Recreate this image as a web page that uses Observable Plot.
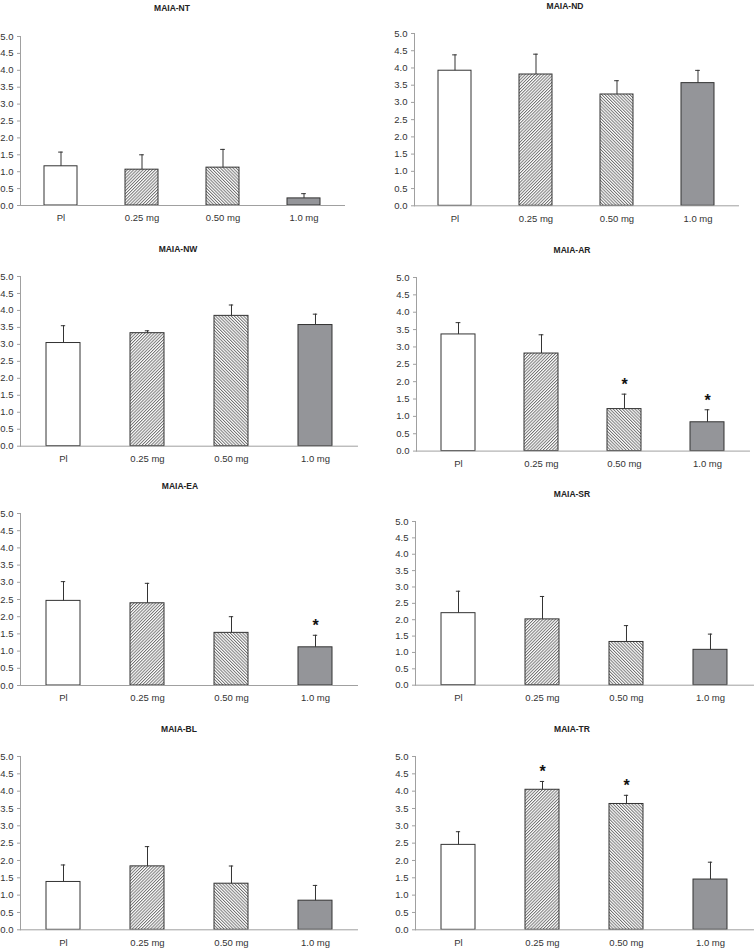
<!DOCTYPE html>
<html>
<head>
<meta charset="utf-8">
<script src="https://cdn.jsdelivr.net/npm/d3@7"></script>
<script src="https://cdn.jsdelivr.net/npm/@observablehq/plot@0.6"></script>
<style>
  html, body { margin: 0; padding: 0; background: #fff; }
  #page { position: relative; width: 755px; height: 950px; overflow: hidden; background: #fff;
          font-family: "Liberation Sans", Arial, sans-serif; }
  .ptitle { position: absolute; transform: translate(-50%, -50%); font-weight: bold; font-size: 8.5px;
            color: #222; white-space: nowrap; }
  .panel { position: absolute; }
</style>
</head>
<body>
<svg width="0" height="0" style="position:absolute">
  <defs>
    <pattern id="hatchUp" patternUnits="userSpaceOnUse" width="2.2" height="2.2" patternTransform="rotate(45)">
      <rect width="2.2" height="2.2" fill="#ffffff"></rect>
      <rect width="0.95" height="2.2" fill="#707070"></rect>
    </pattern>
    <pattern id="hatchDown" patternUnits="userSpaceOnUse" width="2.2" height="2.2" patternTransform="rotate(-45)">
      <rect width="2.2" height="2.2" fill="#ffffff"></rect>
      <rect width="0.95" height="2.2" fill="#707070"></rect>
    </pattern>
  </defs>
</svg>
<div id="page"></div>
<script>
// ---- data ----
const titles = ["MAIA-NT", "MAIA-ND", "MAIA-NW", "MAIA-AR", "MAIA-EA", "MAIA-SR", "MAIA-BL", "MAIA-TR"];
const categories = ["Pl", "0.25 mg", "0.50 mg", "1.0 mg"];
const yTicks = [0, 0.5, 1, 1.5, 2, 2.5, 3, 3.5, 4, 4.5, 5];
const means = [
  [1.16, 1.06, 1.12, 0.21],
  [3.92, 3.81, 3.23, 3.56],
  [3.04, 3.33, 3.84, 3.57],
  [3.36, 2.81, 1.21, 0.83],
  [2.46, 2.39, 1.53, 1.11],
  [2.20, 2.01, 1.32, 1.08],
  [1.38, 1.83, 1.33, 0.84],
  [2.45, 4.04, 3.63, 1.45]
];
const errors = [
  [0.42, 0.44, 0.54, 0.14],
  [0.46, 0.59, 0.40, 0.37],
  [0.51, 0.07, 0.32, 0.32],
  [0.34, 0.54, 0.43, 0.36],
  [0.56, 0.58, 0.47, 0.35],
  [0.67, 0.70, 0.50, 0.48],
  [0.49, 0.57, 0.51, 0.44],
  [0.38, 0.24, 0.25, 0.50]
];
const significant = [
  [], [], [], ["0.50 mg", "1.0 mg"], ["1.0 mg"], [], [], ["0.25 mg", "0.50 mg"]
];

// ---- styles & layout ----
const fills = {"Pl": "#ffffff", "0.25 mg": "url(#hatchUp)", "0.50 mg": "url(#hatchDown)", "1.0 mg": "#949599"};
const layout = [
  {left: 0,   width: 377, axisX: 20,  endX: 345, y5: 36,    y0: 205,   tx: 172, ty: 8},
  {left: 377, width: 378, axisX: 414, endX: 739, y5: 32.7,  y0: 205,   tx: 565, ty: 6},
  {left: 0,   width: 377, axisX: 20,  endX: 358, y5: 276,   y0: 445.7, tx: 178, ty: 249},
  {left: 377, width: 378, axisX: 416, endX: 750, y5: 276.7, y0: 450.3, tx: 572, ty: 250},
  {left: 0,   width: 377, axisX: 20,  endX: 358, y5: 512.7, y0: 684.7, tx: 180, ty: 486},
  {left: 377, width: 378, axisX: 415, endX: 754, y5: 521,   y0: 684.7, tx: 572, ty: 494},
  {left: 0,   width: 377, axisX: 20,  endX: 358, y5: 756,   y0: 929.3, tx: 179, ty: 729},
  {left: 377, width: 378, axisX: 415, endX: 754, y5: 756,   y0: 929.3, tx: 572, ty: 729}
];

const page = document.getElementById("page");
const padInner = 0.59;
const capWidth = 5;
const mTop = 10, mBottom = 24;

titles.forEach((title, p) => {
  const L = layout[p];
  const rows = categories.map((c, i) => ({cat: c, mean: means[p][i], top: means[p][i] + errors[p][i]}));
  const starRows = rows.filter(r => significant[p].includes(r.cat));
  const plotW = L.endX - L.axisX;
  const bw = (plotW / categories.length) * (1 - padInner);
  const capInset = (bw - capWidth) / 2;

  const chart = Plot.plot({
    width: L.width,
    height: (L.y0 - L.y5) + mTop + mBottom,
    marginTop: mTop,
    marginBottom: mBottom,
    marginLeft: L.axisX - L.left,
    marginRight: L.left + L.width - L.endX,
    style: {fontFamily: '"Liberation Sans", Arial, sans-serif', fontSize: "9.5px", color: "#333", background: "transparent", overflow: "visible"},
    x: {domain: categories, paddingInner: padInner, paddingOuter: padInner / 2, label: null, axis: null},
    y: {domain: [0, 5], label: null, axis: null},
    color: {type: "identity"},
    marks: [
      Plot.barY(rows, {x: "cat", y: "mean", fill: d => fills[d.cat], stroke: "#333", strokeWidth: 1}),
      Plot.ruleX(rows, {x: "cat", y1: "mean", y2: "top", stroke: "#333", strokeWidth: 1}),
      Plot.tickY(rows, {x: "cat", y: "top", stroke: "#333", strokeWidth: 1, insetLeft: capInset, insetRight: capInset}),
      Plot.text(starRows, {x: "cat", y: "top", text: () => "*", fontSize: 16, fontWeight: "bold", fill: "#111", lineAnchor: "bottom", dy: -4}),
      Plot.ruleY([0], {stroke: "#a0a0a0", strokeWidth: 1}),
      Plot.frame({anchor: "left", stroke: "#a0a0a0", strokeWidth: 1}),
      Plot.axisY({ticks: yTicks, tickFormat: d => d.toFixed(1), tickSize: 3, tickPadding: 4, stroke: "#a0a0a0", fill: "#333", label: null}),
      Plot.axisX({tickSize: 0, tickPadding: 9, fill: "#333", label: null})
    ]
  });
  chart.classList.add("panel");
  chart.style.left = L.left + "px";
  chart.style.top = (L.y5 - mTop) + "px";
  page.appendChild(chart);

  const t = document.createElement("div");
  t.className = "ptitle";
  t.textContent = title;
  t.style.left = L.tx + "px";
  t.style.top = L.ty + "px";
  page.appendChild(t);
});
</script>
</body>
</html>
